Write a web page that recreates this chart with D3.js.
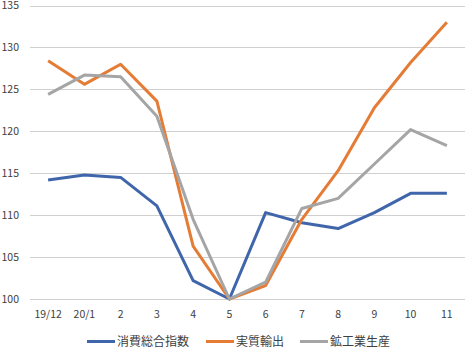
<!DOCTYPE html>
<html>
<head>
<meta charset="utf-8">
<script src="https://cdn.jsdelivr.net/npm/d3@7"></script>
<style>
  body { margin: 0; background: #fff; }
  svg text { font-family: "Noto Sans CJK JP", "Noto Sans", sans-serif; fill: #404040; }
</style>
</head>
<body>
<div id="chart"></div>
<script>
// data
const months = ['19/12', '20/1', '2', '3', '4', '5', '6', '7', '8', '9', '10', '11'];
const consumption = [114.2, 114.8, 114.5, 111.1, 102.2, 100, 110.3, 109.1, 108.4, 110.3, 112.6, 112.6];
const exports = [128.4, 125.6, 128.0, 123.6, 106.3, 100, 101.6, 109.5, 115.3, 122.8, 128.2, 133.0];
const mining = [124.4, 126.7, 126.5, 121.8, 109.5, 100, 102.0, 110.8, 112.0, 116.1, 120.2, 118.3];
const seriesNames = ['消費総合指数', '実質輸出', '鉱工業生産'];
const seriesColors = ['#3f66ab', '#e47c35', '#a5a5a5'];
const yTicks = [100, 105, 110, 115, 120, 125, 130, 135];

const width = 474, height = 352;
const margin = {top: 5.5, right: 9, bottom: 53, left: 30};

const svg = d3.select('#chart').append('svg')
    .attr('width', width)
    .attr('height', height);

const x = d3.scaleBand()
    .domain(months)
    .range([margin.left, width - margin.right]);

const y = d3.scaleLinear()
    .domain([100, 135])
    .range([height - margin.bottom, margin.top]);

// gridlines
svg.append('g')
    .selectAll('line')
    .data(yTicks)
    .enter().append('line')
    .attr('x1', margin.left)
    .attr('x2', width - margin.right)
    .attr('y1', d => Math.round(y(d)) + 0.5)
    .attr('y2', d => Math.round(y(d)) + 0.5)
    .attr('stroke', '#d0d0d0')
    .attr('stroke-width', 1);

// y labels
svg.append('g')
    .selectAll('text')
    .data(yTicks)
    .enter().append('text')
    .attr('x', 19)
    .attr('y', d => y(d))
    .attr('dy', '0.35em')
    .attr('text-anchor', 'end')
    .attr('font-size', 10.5)
    .text(d => d);

// x labels
svg.append('g')
    .selectAll('text')
    .data(months)
    .enter().append('text')
    .attr('x', d => x(d) + x.bandwidth() / 2)
    .attr('y', 314)
    .attr('dy', '0.35em')
    .attr('text-anchor', 'middle')
    .attr('font-size', 10.5)
    .text(d => d);

const line = d3.line()
    .x((d, i) => x(months[i]) + x.bandwidth() / 2)
    .y(d => y(d));

[consumption, exports, mining].forEach((s, i) => {
    svg.append('path')
        .datum(s)
        .attr('d', line)
        .attr('fill', 'none')
        .attr('stroke', seriesColors[i])
        .attr('stroke-width', 3)
        .attr('stroke-linejoin', 'round');
});

// legend
const legendX = [87, 206, 300];
const legend = svg.append('g');
seriesNames.forEach((name, i) => {
    legend.append('line')
        .attr('x1', legendX[i])
        .attr('x2', legendX[i] + 28)
        .attr('y1', 341.5)
        .attr('y2', 341.5)
        .attr('stroke', seriesColors[i])
        .attr('stroke-width', 3);
    legend.append('text')
        .attr('x', legendX[i] + 30)
        .attr('y', 341.5)
        .attr('dy', '0.35em')
        .attr('font-size', 12)
        .text(name);
});
</script>
</body>
</html>
